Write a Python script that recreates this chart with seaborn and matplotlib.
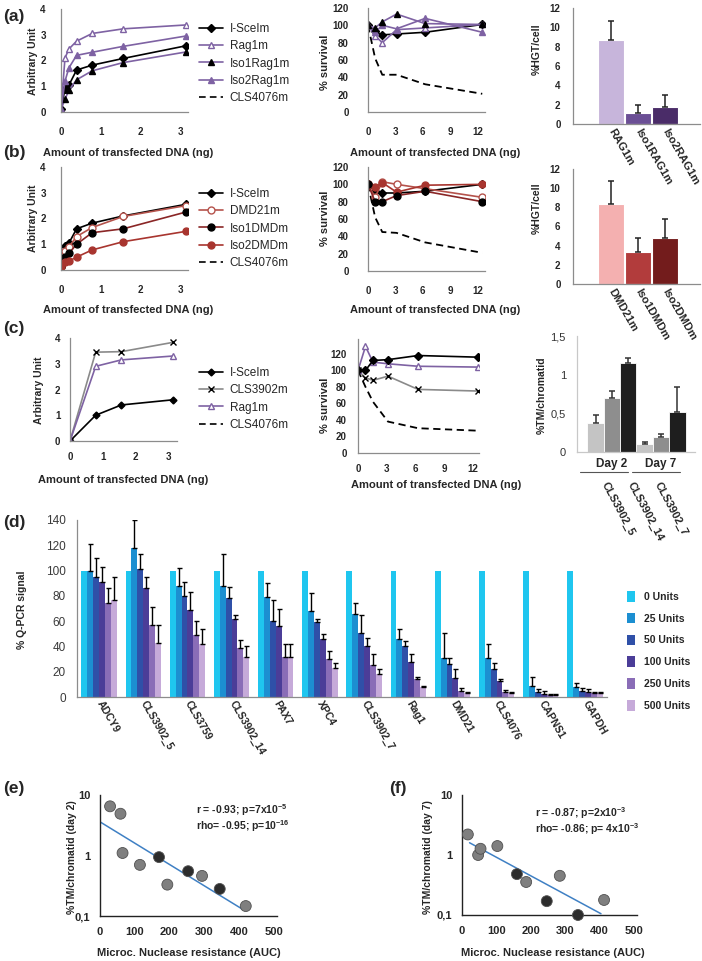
import numpy as np
import pandas as pd
import matplotlib
matplotlib.use('Agg')
import matplotlib.pyplot as plt
import seaborn as sns
from matplotlib.lines import Line2D
from matplotlib.patches import Patch
from matplotlib.ticker import NullLocator

# ---------------- data ----------------
dna_a = [0, 0.1, 0.2, 0.39, 0.78, 1.56, 3.125]
a_isceim = [0.1, 0.9, 1.05, 1.63, 1.82, 2.08, 2.57]
a_rag1m = [0.1, 2.1, 2.45, 2.75, 3.05, 3.23, 3.38]
a_iso1 = [0.1, 0.5, 0.85, 1.25, 1.6, 1.92, 2.33]
a_iso2 = [0.1, 1.2, 1.72, 2.2, 2.32, 2.55, 2.95]

surv_x = [0, 0.78, 1.56, 3.125, 6.25, 12.5]
as_isceim = [100, 93, 89, 90, 92, 101]
as_rag1m = [100, 88, 80, 95, 97, 101]
as_iso1 = [100, 97, 104, 113, 102, 101]
as_iso2 = [100, 92, 100, 96, 108, 92]
as_cls4076 = [100, 62, 43, 43, 32, 21]

hgt_a_labels = ['RAG1m', 'Iso1RAG1m', 'Iso2RAG1m']
hgt_a_vals = [8.7, 1.1, 1.8]
hgt_a_err = [2.0, 0.9, 1.25]

b_isceim = [0.1, 0.95, 1.05, 1.6, 1.82, 2.1, 2.55]
b_dmd21 = [0.15, 0.75, 0.9, 1.3, 1.65, 2.08, 2.5]
b_iso1 = [0.15, 0.5, 0.65, 1.0, 1.45, 1.6, 2.25]
b_iso2 = [0.1, 0.3, 0.35, 0.5, 0.78, 1.1, 1.5]

bs_isceim = [100, 92, 90, 90, 92, 100]
bs_dmd21 = [100, 85, 103, 100, 95, 85]
bs_iso1 = [100, 80, 80, 87, 92, 80]
bs_iso2 = [100, 97, 102, 91, 99, 100]
bs_cls4076 = [100, 62, 45, 44, 33, 21]

hgt_b_labels = ['DMD21m', 'Iso1DMDm', 'Iso2DMDm']
hgt_b_vals = [8.35, 3.35, 4.8]
hgt_b_err = [2.35, 1.5, 2.0]

dna_c = [0, 0.78, 1.56, 3.125]
c_isceim = [0, 1.0, 1.4, 1.6]
c_cls3902 = [0, 3.45, 3.47, 3.83]
c_rag1m = [0, 2.9, 3.15, 3.3]

cs_isceim = [100, 100, 112, 113, 118, 116]
cs_rag1m = [100, 129, 110, 108, 105, 104]
cs_cls3902 = [100, 91, 88, 93, 77, 75]
cs_cls4076 = [100, 80, 62, 38, 30, 27]

tm_days = ['Day 2', 'Day 7']
tm_clones = ['CLS3902_5', 'CLS3902_14', 'CLS3902_7']
tm_day2 = [0.38, 0.70, 1.15]
tm_day2_err = [0.10, 0.09, 0.06]
tm_day7 = [0.10, 0.19, 0.52]
tm_day7_err = [0.03, 0.04, 0.32]

genes = ['ADCY9', 'CLS3902_5', 'CLS3759', 'CLS3902_14', 'PAX7', 'XPC4',
         'CLS3902_7', 'Rag1', 'DMD21', 'CLS4076', 'CAPNS1', 'GAPDH']
unit_labels = ['0 Units', '25 Units', '50 Units', '100 Units', '250 Units', '500 Units']
u0 = [100, 100, 100, 100, 100, 100, 100, 100, 100, 100, 100, 100]
u25 = [100, 118, 88, 88, 79, 68, 66, 46, 31, 31, 9, 8]
u50 = [95, 101, 80, 78, 60, 59, 51, 40, 26, 22, 4, 5]
u100 = [91, 86, 69, 62, 56, 46, 40, 28, 15, 13, 2.5, 4]
u250 = [74, 57, 49, 39, 32, 30, 25, 14, 5, 4, 1.5, 3]
u500 = [77, 43, 42, 32, 32, 23, 18, 8, 3, 3, 1.5, 3]
e0 = [0] * 12
e25 = [21, 22, 14, 25, 11, 14, 8, 8, 20, 11, 7, 3]
e50 = [15, 12, 11, 9, 17, 3, 14, 4, 5, 5, 2, 2]
e100 = [12, 9, 14, 3, 14, 4, 7, 6, 7, 1, 2, 2]
e250 = [12, 14, 11, 6, 10, 6, 9, 2, 2, 1.5, 1, 1]
e500 = [18, 14, 12, 8, 10, 4, 4, 1, 1, 1, 1, 1]

e_x = [29, 59, 65, 115, 170, 194, 254, 294, 345, 420]
e_y = [6.5, 4.9, 1.1, 0.70, 0.94, 0.33, 0.55, 0.46, 0.28, 0.146]
e_grp = ['o', 'o', 'o', 'o', 'c', 'o', 'c', 'o', 'c', 'o']
e_line_x = [0, 410]
e_line_y = [3.6, 0.13]

f_x = [17, 47, 54, 103, 160, 187, 247, 285, 338, 414]
f_y = [2.2, 1.0, 1.27, 1.41, 0.48, 0.355, 0.17, 0.45, 0.1, 0.178]
f_grp = ['o', 'o', 'o', 'o', 'c', 'o', 'c', 'o', 'c', 'o']
f_line_x = [22, 405]
f_line_y = [1.6, 0.105]

# ---------------- style ----------------
sns.set_style('white')
plt.rcParams['font.family'] = ['Liberation Sans', 'DejaVu Sans']
plt.rcParams['mathtext.fontset'] = 'custom'
plt.rcParams['mathtext.rm'] = 'Liberation Sans'
plt.rcParams['mathtext.bf'] = 'Liberation Sans:bold'
plt.rcParams['mathtext.default'] = 'bf'

W, H = 702, 961
fig = plt.figure(figsize=(W / 100, H / 100), dpi=100)


def box(l, t, r, b):
    a = fig.add_axes([l / W, 1 - b / H, (r - l) / W, (b - t) / H])
    a.patch.set_visible(False)
    return a


def ftext(x, y, s, **kw):
    kw.setdefault('ha', 'center')
    kw.setdefault('va', 'center')
    return fig.text(x / W, 1 - y / H, s, **kw)


AX = '#8c8c8c'


def style_ax(ax, color=AX, size=7, bold=True, xpad=7, ypad=7, length=3):
    sns.despine(ax=ax)
    for s in ('left', 'bottom'):
        ax.spines[s].set_color(color)
        ax.spines[s].set_linewidth(0.9)
    ax.tick_params(axis='x', direction='out', length=length, width=0.8, color=color,
                   labelsize=size, pad=xpad)
    ax.tick_params(axis='y', direction='out', length=length, width=0.8, color=color,
                   labelsize=size, pad=ypad)
    if bold:
        plt.setp(ax.get_xticklabels() + ax.get_yticklabels(), fontweight='bold')


def line(ax, x, y, color, marker=None, mfc=None, mec=None, ms=4.5, ls='-', lw=1.2):
    sns.lineplot(x=x, y=y, ax=ax, color=color, marker=marker, markersize=ms,
                 markerfacecolor=mfc, markeredgecolor=mec, markeredgewidth=1.0,
                 linewidth=lw, linestyle=ls, estimator=None, sort=False, legend=False)
    return ax.lines[-1]


def legend(ax, handles, labels, x, y, fs=8.5, spacing=0.45):
    ax.legend(handles, labels, loc='upper left', bbox_to_anchor=(x / W, 1 - y / H),
              bbox_transform=fig.transFigure, frameon=False, fontsize=fs,
              handlelength=2.0, handletextpad=0.6, labelspacing=spacing,
              borderaxespad=0, borderpad=0)


def one_sided_err(ax, bars, errs, color='#222222', cap=2.5, lw=1.1):
    for bar, e in zip(bars, errs):
        if e > 0:
            ax.errorbar(bar.get_x() + bar.get_width() / 2, bar.get_height(),
                        yerr=[[0], [e]], fmt='none', ecolor=color, elinewidth=lw,
                        capsize=cap, capthick=lw)


PURPLE = '#7e62a3'
DASH = (0, (4, 2.5))

# ---------------- panel labels ----------------
for lab, (x, y) in {'(a)': (14, 17), '(b)': (14, 153), '(c)': (14, 328),
                    '(d)': (14, 523), '(e)': (14, 789), '(f)': (398, 789)}.items():
    ftext(x, y, lab, fontsize=12.5, fontweight='bold')

xl = 'Amount of transfected DNA (ng)'

# ================= (a) =================
ax = box(61, 9, 188, 112)
h1 = line(ax, dna_a, a_isceim, 'black', 'D', 'black', 'black', ms=4)
h2 = line(ax, dna_a, a_rag1m, PURPLE, '^', 'white', PURPLE, ms=5)
h3 = line(ax, dna_a, a_iso1, PURPLE, '^', 'black', 'black', ms=5)
h4 = line(ax, dna_a, a_iso2, PURPLE, '^', PURPLE, PURPLE, ms=5)
h5 = Line2D([], [], color='black', lw=1.2, linestyle=DASH)
ax.set_xlim(0, 3.18)
ax.set_ylim(0, 4)
ax.set_xticks([0, 1, 2, 3])
ax.set_yticks([0, 1, 2, 3, 4])
style_ax(ax, xpad=8, ypad=8)
legend(ax, [h1, h2, h3, h4, h5], ['I-SceIm', 'Rag1m', 'Iso1Rag1m', 'Iso2Rag1m', 'CLS4076m'], 199, 23)
ftext(33, 61, 'Arbitrary Unit', rotation=90, fontsize=7.5, fontweight='bold')
ftext(128, 153, xl, fontsize=8, fontweight='bold')

ax = box(368, 8, 485, 112)
line(ax, surv_x, as_cls4076, 'black', ls=DASH, lw=1.3)
line(ax, surv_x, as_isceim, 'black', 'D', 'black', 'black', ms=4)
line(ax, surv_x, as_rag1m, PURPLE, '^', 'white', PURPLE, ms=5)
line(ax, surv_x, as_iso2, PURPLE, '^', PURPLE, PURPLE, ms=5)
line(ax, surv_x, as_iso1, PURPLE, '^', 'black', 'black', ms=5)
ax.set_xlim(0, 12.8)
ax.set_ylim(0, 120)
ax.set_xticks([0, 3, 6, 9, 12])
ax.set_yticks(range(0, 121, 20))
style_ax(ax, xpad=8, ypad=11)
ftext(325, 62, '% survival', rotation=90, fontsize=8, fontweight='bold')
ftext(435, 153, xl, fontsize=8, fontweight='bold')

ax = box(573, 8, 700, 124)
sns.barplot(x=hgt_a_labels, y=hgt_a_vals, hue=hgt_a_labels,
            palette=['#c7b5db', '#6b4f95', '#4a2c68'], ax=ax, width=0.97,
            saturation=1, legend=False, edgecolor='white', linewidth=0.8)
one_sided_err(ax, ax.patches, hgt_a_err)
ax.set_xlim(-1.4, 3.3)
ax.set_ylim(0, 12)
ax.set_yticks(range(0, 13, 2))
style_ax(ax, xpad=4, ypad=6)
ax.tick_params(axis='x', length=0)
plt.setp(ax.get_xticklabels(), rotation=-60, ha='left', va='center', rotation_mode='anchor',
         fontsize=8)
ftext(537, 49, '%HGT/cell', rotation=90, fontsize=7.5, fontweight='bold')

# ================= (b) =================
RED1, RED2, RED3 = '#b5534c', '#8a2626', '#a8352f'
ax = box(61, 167, 188, 270)
h1 = line(ax, dna_a, b_isceim, 'black', 'D', 'black', 'black', ms=4)
h2 = line(ax, dna_a, b_dmd21, RED1, 'o', 'white', RED1, ms=5)
h3 = line(ax, dna_a, b_iso1, RED2, 'o', 'black', 'black', ms=5)
h4 = line(ax, dna_a, b_iso2, RED3, 'o', RED3, RED3, ms=5)
h5 = Line2D([], [], color='black', lw=1.2, linestyle=DASH)
ax.set_xlim(0, 3.18)
ax.set_ylim(0, 4)
ax.set_xticks([0, 1, 2, 3])
ax.set_yticks([0, 1, 2, 3, 4])
style_ax(ax, xpad=8, ypad=8)
legend(ax, [h1, h2, h3, h4, h5], ['I-SceIm', 'DMD21m', 'Iso1DMDm', 'Iso2DMDm', 'CLS4076m'], 199, 188)
ftext(33, 218, 'Arbitrary Unit', rotation=90, fontsize=7.5, fontweight='bold')
ftext(128, 310, xl, fontsize=8, fontweight='bold')

ax = box(368, 167, 485, 271)
line(ax, surv_x, bs_cls4076, 'black', ls=DASH, lw=1.3)
line(ax, surv_x, bs_isceim, 'black', 'D', 'black', 'black', ms=4)
line(ax, surv_x, bs_dmd21, RED1, 'o', 'white', RED1, ms=5)
line(ax, surv_x, bs_iso2, RED3, 'o', RED3, RED3, ms=5)
line(ax, surv_x, bs_iso1, RED2, 'o', 'black', 'black', ms=5)
ax.set_xlim(0, 12.8)
ax.set_ylim(0, 120)
ax.set_xticks([0, 3, 6, 9, 12])
ax.set_yticks(range(0, 121, 20))
style_ax(ax, xpad=8, ypad=11)
ftext(325, 218, '% survival', rotation=90, fontsize=8, fontweight='bold')
ftext(435, 310, xl, fontsize=8, fontweight='bold')

ax = box(573, 169, 700, 284)
sns.barplot(x=hgt_b_labels, y=hgt_b_vals, hue=hgt_b_labels,
            palette=['#f4b0b0', '#b23c3c', '#731c1c'], ax=ax, width=0.97,
            saturation=1, legend=False, edgecolor='white', linewidth=0.8)
one_sided_err(ax, ax.patches, hgt_b_err)
ax.set_xlim(-1.4, 3.3)
ax.set_ylim(0, 12)
ax.set_yticks(range(0, 13, 2))
style_ax(ax, xpad=4, ypad=6)
ax.tick_params(axis='x', length=0)
plt.setp(ax.get_xticklabels(), rotation=-60, ha='left', va='center', rotation_mode='anchor',
         fontsize=8)
ftext(537, 208, '%HGT/cell', rotation=90, fontsize=7.5, fontweight='bold')

# ================= (c) =================
GREY = '#8a8a8a'
ax = box(70, 338, 177, 441)
h1 = line(ax, dna_c, c_isceim, 'black', 'D', 'black', 'black', ms=3.5)
h2 = line(ax, dna_c, c_cls3902, GREY, 'x', 'black', 'black', ms=4.5)
h3 = line(ax, dna_c, c_rag1m, PURPLE, '^', 'white', PURPLE, ms=5)
h4 = Line2D([], [], color='black', lw=1.2, linestyle=DASH)
ax.set_xlim(0, 3.25)
ax.set_ylim(0, 4)
ax.set_xticks([0, 1, 2, 3])
ax.set_yticks([0, 1, 2, 3, 4])
style_ax(ax, xpad=5, ypad=4)
legend(ax, [h1, h2, h3, h4], ['I-SceIm', 'CLS3902m', 'Rag1m', 'CLS4076m'], 199, 367)
ftext(39, 390, 'Arbitrary Unit', rotation=90, fontsize=7.5, fontweight='bold')
ftext(123, 480, xl, fontsize=8, fontweight='bold')

ax = box(358, 339, 479, 453)
line(ax, surv_x, cs_cls4076, 'black', ls=DASH, lw=1.3)
line(ax, surv_x, cs_cls3902, GREY, 'x', 'black', 'black', ms=4.5)
line(ax, surv_x, cs_rag1m, PURPLE, '^', 'white', PURPLE, ms=5)
line(ax, surv_x, cs_isceim, 'black', 'D', 'black', 'black', ms=4)
ax.set_xlim(0, 12.6)
ax.set_ylim(0, 138)
ax.set_xticks([0, 3, 6, 9, 12])
ax.set_yticks(range(0, 121, 20))
style_ax(ax, xpad=5, ypad=5)
ftext(325, 405, '% survival', rotation=90, fontsize=8, fontweight='bold')
ftext(436, 485, xl, fontsize=8, fontweight='bold')

ax = box(577, 336, 695, 452)
tm_df = pd.DataFrame({'day': [d for d in tm_days for _ in tm_clones],
                      'clone': tm_clones * 2,
                      'val': tm_day2 + tm_day7})
sns.barplot(data=tm_df, x='day', y='val', hue='clone', hue_order=tm_clones, order=tm_days,
            palette=['#c4c4c4', '#8e8e8e', '#1e1e1e'], ax=ax, width=1.0,
            saturation=1, legend=False, edgecolor='white', linewidth=0.6)
tm_errs = [[tm_day2_err[k], tm_day7_err[k]] for k in range(3)]
for cont, errs in zip(ax.containers, tm_errs):
    one_sided_err(ax, cont, errs, color='#333333', cap=2.5, lw=1.1)
ax.set_xlim(-0.71, 1.69)
ax.set_ylim(0, 1.5)
ax.set_yticks([0, 0.5, 1, 1.5], ['0', '0,5', '1', '1,5'])
ax.set_xlabel('')
ax.set_ylabel('')
style_ax(ax, color='#c8c8c8', size=8, bold=False, xpad=4, ypad=8, length=0)
plt.setp(ax.get_yticklabels(), color='#333333')
plt.setp(ax.get_xticklabels(), fontweight='bold', fontsize=8.5)
for x1, x2 in [(580, 628), (632, 680)]:
    fig.add_artist(Line2D([x1 / W, x2 / W], [1 - 472 / H] * 2, color='#555555', lw=0.8))
for x0, name in zip([604, 630, 657], tm_clones):
    ftext(x0, 483, name, rotation=-62, ha='left', va='center', rotation_mode='anchor',
          fontsize=8, fontweight='bold')
ftext(542, 395, '%TM/chromatid', rotation=90, fontsize=7.5, fontweight='bold')

# ================= (d) =================
unit_colors = ['#1fc6ef', '#1c8fd1', '#2f50a8', '#4b3d98', '#8a6db7', '#c6aad9']
unit_vals = [u0, u25, u50, u100, u250, u500]
unit_errs = [e0, e25, e50, e100, e250, e500]
qdf = pd.DataFrame({'gene': genes * 6,
                    'units': [u for u in unit_labels for _ in genes],
                    'val': sum(unit_vals, [])})
ax = box(77, 520, 607, 697)
sns.barplot(data=qdf, x='gene', y='val', hue='units', order=genes, hue_order=unit_labels,
            palette=unit_colors, ax=ax, width=0.8, saturation=1, legend=False,
            edgecolor='none', linewidth=0)
for cont, errs in zip(ax.containers, unit_errs):
    bars = sorted(cont, key=lambda b: b.get_x())
    one_sided_err(ax, bars, errs, color='black', cap=1.8, lw=1.0)
ax.set_xlim(-0.5, 11.5)
ax.set_ylim(0, 140)
ax.set_yticks(range(0, 141, 20))
ax.set_xlabel('')
ax.set_ylabel('')
style_ax(ax, size=8.5, bold=False, xpad=3, ypad=5)
ax.tick_params(axis='x', length=0)
plt.setp(ax.get_yticklabels(), color='#3a3a3a')
plt.setp(ax.get_xticklabels(), rotation=-60, ha='left', va='center', rotation_mode='anchor',
         fontsize=7.5, fontweight='bold')
ax.legend([Patch(facecolor=c, edgecolor='none') for c in unit_colors], unit_labels,
          loc='upper left', bbox_to_anchor=(627 / W, 1 - 591 / H), bbox_transform=fig.transFigure,
          frameon=False, prop={'weight': 'bold', 'size': 7.5}, handlelength=0.8,
          handleheight=1.2, handletextpad=0.8, labelspacing=1.05, borderaxespad=0, borderpad=0)
ftext(22, 610, '% Q-PCR signal', rotation=90, fontsize=7.5, fontweight='bold')


# ================= (e) & (f) =================
def scatter_panel(box_px, xs, ys, grp, lx, ly, ylab, ylab_x, stats, stats_xy, xlab_x):
    ax = box(*box_px)
    sns.lineplot(x=lx, y=ly, ax=ax, color='#3f80c4', linewidth=1.1, estimator=None,
                 sort=False, legend=False)
    sns.scatterplot(x=xs, y=ys, hue=grp, palette={'o': '#7f7f7f', 'c': '#2c2c2c'},
                    s=62, edgecolor='#505050', linewidth=0.6, ax=ax, legend=False,
                    zorder=3, clip_on=False)
    ax.set_yscale('log')
    ax.set_ylim(0.1, 10)
    ax.set_xlim(0, 510)
    ax.set_xticks(range(0, 501, 100))
    ax.set_yticks([0.1, 1, 10], ['0,1', '1', '10'])
    ax.yaxis.set_minor_locator(NullLocator())
    style_ax(ax, color='#222222', size=8, xpad=4, ypad=3, length=4)
    ax.spines['left'].set_linewidth(1.0)
    ax.spines['bottom'].set_linewidth(1.0)
    ftext(ylab_x, 857, ylab, rotation=90, fontsize=7.5, fontweight='bold')
    ftext(xlab_x, 953, 'Microc. Nuclease resistance (AUC)', fontsize=8, fontweight='bold')
    for (sx, sy), s in zip(stats_xy, stats):
        ftext(sx, sy, s, ha='left', fontsize=7.5, fontweight='bold')


scatter_panel((100, 795, 277, 916), e_x, e_y, e_grp, e_line_x, e_line_y,
              '%TM/chromatid (day 2)', 72,
              ['r = -0.93; p=7x10$^{-5}$', 'rho= -0.95; p=10$^{-16}$'],
              [(196, 810), (196, 826)], 189)
scatter_panel((462, 795, 637, 915), f_x, f_y, f_grp, f_line_x, f_line_y,
              '%TM/chromatid (day 7)', 428,
              ['r = -0.87; p=2x10$^{-3}$', 'rho= -0.86; p= 4x10$^{-3}$'],
              [(535, 813), (535, 829)], 553)

fig.savefig('out.png', dpi=100)
